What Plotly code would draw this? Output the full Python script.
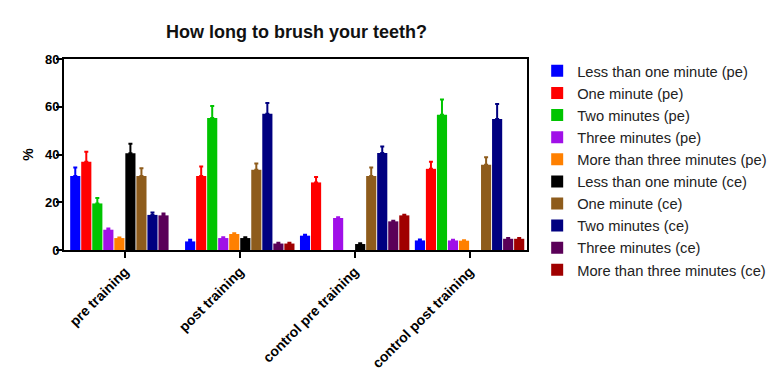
import plotly.graph_objects as go

# Groups along the x axis
groups = ["pre training", "post training", "control pre training", "control post training"]

# Response categories (pe / ce) and their bar colours
series_names = [
    "Less than one minute (pe)",
    "One minute (pe)",
    "Two minutes (pe)",
    "Three minutes (pe)",
    "More than three minutes (pe)",
    "Less than one minute (ce)",
    "One minute (ce)",
    "Two minutes (ce)",
    "Three minutes (ce)",
    "More than three minutes (ce)",
]
series_colors = [
    "#0000FF", "#FF0000", "#00C400", "#A010E8", "#FF8000",
    "#000000", "#8E5C1C", "#000080", "#5A0058", "#A00000",
]

# Mean percentages per series, one value per group (None = no bar)
less_pe = [31, 3.6, 6, 4]
one_pe = [37, 31, 28.3, 34]
two_pe = [19.5, 55.3, None, 56.7]
three_pe = [8.5, 5, 13.4, 4]
more_pe = [5, 6.7, None, 3.9]
less_ce = [40.5, 5, 2.5, None]
one_ce = [31, 33.6, 31, 35.7]
two_ce = [14.7, 57.1, 40.6, 54.9]
three_ce = [14.5, 2.7, 12, 4.7]
more_ce = [None, 2.7, 14.5, 4.7]

# Upper error (SEM) per series
less_pe_err = [3.6, 0.7, 0.4, 0.4]
one_pe_err = [4.2, 4, 2.3, 3]
two_pe_err = [2.3, 5, 0, 6.3]
three_pe_err = [0.5, 0.3, 0.3, 0.3]
more_pe_err = [0.2, 0.3, 0, 0.2]
less_ce_err = [4, 0.3, 0.3, 0]
one_ce_err = [3.2, 2.6, 3.6, 3.1]
two_ce_err = [1, 4.5, 2.8, 6.3]
three_ce_err = [0.8, 0.3, 0.3, 0.3]
more_ce_err = [0, 0.3, 0.3, 0.3]

values = [less_pe, one_pe, two_pe, three_pe, more_pe,
          less_ce, one_ce, two_ce, three_ce, more_ce]
errors = [less_pe_err, one_pe_err, two_pe_err, three_pe_err, more_pe_err,
          less_ce_err, one_ce_err, two_ce_err, three_ce_err, more_ce_err]

y_ticks = [0, 20, 40, 60, 80]

FONT = "Arial, 'Liberation Sans', sans-serif"

fig = go.Figure()
for i, (name, color, vals, errs) in enumerate(zip(series_names, series_colors, values, errors)):
    fig.add_trace(go.Bar(
        name=name,
        x=groups,
        y=vals,
        marker=dict(color=color, line=dict(width=0)),
        error_y=dict(
            type="data",
            symmetric=False,
            array=errs,
            arrayminus=[0] * len(errs),
            color=color,
            thickness=2,
            width=2,
        ),
        legendgroup=f"g{i}",
    ))

fig.update_layout(
    width=779,
    height=379,
    margin=dict(l=64, r=252, t=59, b=129, autoexpand=False),
    paper_bgcolor="white",
    plot_bgcolor="white",
    barmode="group",
    bargap=0.04,
    bargroupgap=0.08,
    font=dict(family=FONT, color="#000000"),
    title=dict(
        text="<b>How long to brush your teeth?</b>",
        x=(163 + 430) / 2 / 779,
        xanchor="center",
        y=1 - 31.5 / 379,
        yanchor="middle",
        font=dict(size=18, family=FONT, color="#111111"),
    ),
    legend=dict(
        x=1.022,
        xanchor="left",
        y=1.022,
        yanchor="top",
        traceorder="grouped",
        tracegroupgap=0,
        maxheight=400,
        font=dict(size=14.7, family=FONT, color="#222222"),
        bgcolor="rgba(0,0,0,0)",
    ),
    showlegend=True,
)

fig.update_xaxes(
    range=[-0.53, 3.5],
    showline=True,
    linecolor="#000000",
    linewidth=2,
    mirror=True,
    ticks="outside",
    ticklen=6,
    tickwidth=2,
    tickcolor="#000000",
    tickangle=-45,
    tickfont=dict(size=14, family=FONT, color="#000000"),
    tickprefix="<b>",
    ticksuffix="</b>",
    showgrid=False,
    zeroline=False,
)

fig.update_yaxes(
    range=[0, 80],
    tickvals=y_ticks,
    ticktext=[f"<b>{t}</b>" for t in y_ticks],
    showline=True,
    linecolor="#000000",
    linewidth=2,
    mirror=True,
    ticks="outside",
    ticklen=6,
    tickwidth=2,
    tickcolor="#000000",
    ticklabelstandoff=-6,
    tickfont=dict(size=13, family=FONT, color="#000000"),
    showgrid=False,
    zeroline=False,
    title=dict(text="<b>%</b>", font=dict(size=14, family=FONT), standoff=8),
)

fig.write_html("out.html")
